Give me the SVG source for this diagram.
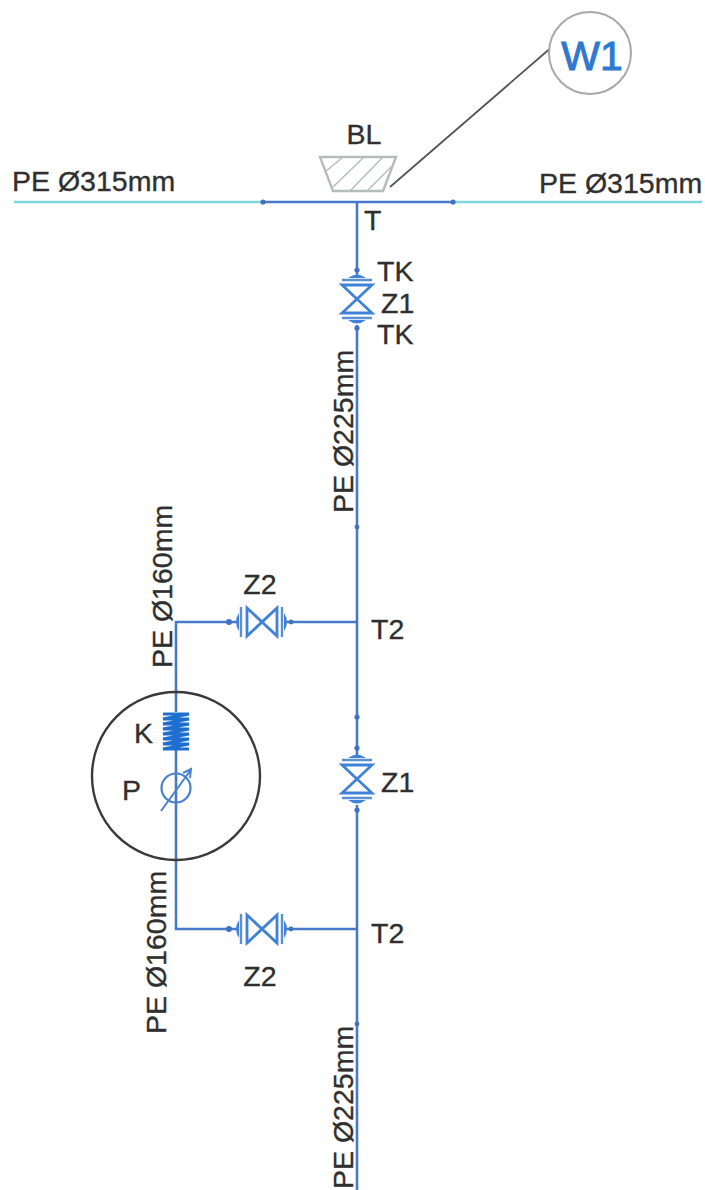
<svg xmlns="http://www.w3.org/2000/svg" width="705" height="1190" viewBox="0 0 705 1190">
<style>
text{font-family:"Liberation Sans",Arial,sans-serif;font-size:28.5px;fill:#2f2f2f;stroke:#2f2f2f;stroke-width:.35}
.p{fill:none;stroke:#4a78c8;stroke-width:2.6}
.cy{fill:none;stroke:#7fd6dc;stroke-width:2.4}
.v{fill:none;stroke:#3f82d8;stroke-width:2.8}
.fl{fill:none;stroke:#5a8fd0;stroke-width:2.4}
.dot{fill:#3f72c0}
.blk{fill:none;stroke:#3a3a3a;stroke-width:2.4}
</style>
<defs>
<g id="valveV"><path class="v" d="M-15,-14H15L-15,14H15Z"/><path class="fl" d="M-15,-19H15M-15,19H15"/><path d="M-9,-21Q0,-28 9,-21ZM-9,21Q0,28 9,21Z" fill="#3f82d8"/></g>
<g id="valveH"><path class="v" d="M-15,-14V14L15,-14V14Z"/><path class="fl" d="M-21,-15V15M20,-15V15"/><path d="M-23,-9Q-29,0 -23,9ZM22,-9Q28,0 22,9Z" fill="#3f82d8"/></g>
</defs>
<g id="connectors">
<path class="cy" d="M14,202H263M453,202H702"/>
<path class="p" d="M263,202H453M357,202V275M357,325V755M357,805V1190"/>
<path class="p" d="M357,622H284M238,622H176V712M176,750V860M176,860V929H238M284,929H357"/>
<path d="M390,187L553,46" fill="none" stroke="#555" stroke-width="1.8"/>
<g class="dot"><circle cx="263" cy="202" r="2.6"/><circle cx="453" cy="202" r="2.6"/><circle cx="357" cy="270" r="2.6"/><circle cx="357" cy="328" r="2.6"/><circle cx="357" cy="527" r="2.4"/><circle cx="357" cy="717" r="2.6"/><circle cx="357" cy="748" r="2.6"/><circle cx="357" cy="810" r="2.6"/><circle cx="357" cy="1024" r="2.4"/><circle cx="229" cy="622" r="3"/><circle cx="291" cy="622" r="2.4"/><circle cx="229" cy="929" r="3"/><circle cx="291" cy="929" r="2.4"/></g>
</g>
<g id="W1"><circle cx="590" cy="53" r="41" fill="#fff" stroke="#a8a8a8" stroke-width="2"/><text x="592" y="70" text-anchor="middle" style="font-size:41px;fill:#2f78d0;stroke:#2f78d0;stroke-width:1">W1</text></g>
<g id="BL"><path d="M320,157H396L383,191H333Z" fill="none" stroke="#b4bcbc" stroke-width="2.4"/><path d="M325,172L342,158M333,187L363,158M350,191L382,158M367,191L391,167" fill="none" stroke="#b4bcbc" stroke-width="1.4"/><text x="364" y="144" text-anchor="middle">BL</text></g>
<g id="pipe-labels">
<text x="12" y="191">PE Ø315mm</text><text x="539" y="193">PE Ø315mm</text>
<text transform="translate(353,513) rotate(-90)">PE Ø225mm</text>
<text transform="translate(172,668) rotate(-90)">PE Ø160mm</text>
<text transform="translate(166,1034) rotate(-90)">PE Ø160mm</text>
<text transform="translate(353,1189) rotate(-90)">PE Ø225mm</text>
</g>
<g id="T"><text x="364" y="230">T</text></g>
<g id="Z1-top"><use href="#valveV" x="357" y="299"/><text x="377" y="281">TK</text><text x="381" y="313">Z1</text><text x="377" y="344">TK</text></g>
<g id="Z1-bottom"><use href="#valveV" x="357" y="779"/><text x="381" y="792">Z1</text></g>
<g id="Z2-top"><use href="#valveH" x="262" y="622"/><text x="260" y="594" text-anchor="middle">Z2</text></g>
<g id="Z2-bottom"><use href="#valveH" x="262" y="929"/><text x="260" y="986" text-anchor="middle">Z2</text></g>
<g id="T2-top"><text x="371" y="639">T2</text></g>
<g id="T2-bottom"><text x="371" y="943">T2</text></g>
<g id="PK"><circle class="blk" cx="176" cy="776" r="84"/>
<path d="M163,714H189L163,719H189L163,724H189L163,729H189L163,734H189L163,739H189L163,744H189L163,749H189" fill="none" stroke="#1f6fd0" stroke-width="3"/>
<circle cx="176" cy="788" r="14.5" fill="none" stroke="#4a80d0" stroke-width="2.2"/>
<path d="M161,811L190,771M183,773L191,769L190,778" fill="none" stroke="#4a80d0" stroke-width="2"/>
<text x="134" y="743">K</text><text x="122" y="800">P</text></g>
</svg>
